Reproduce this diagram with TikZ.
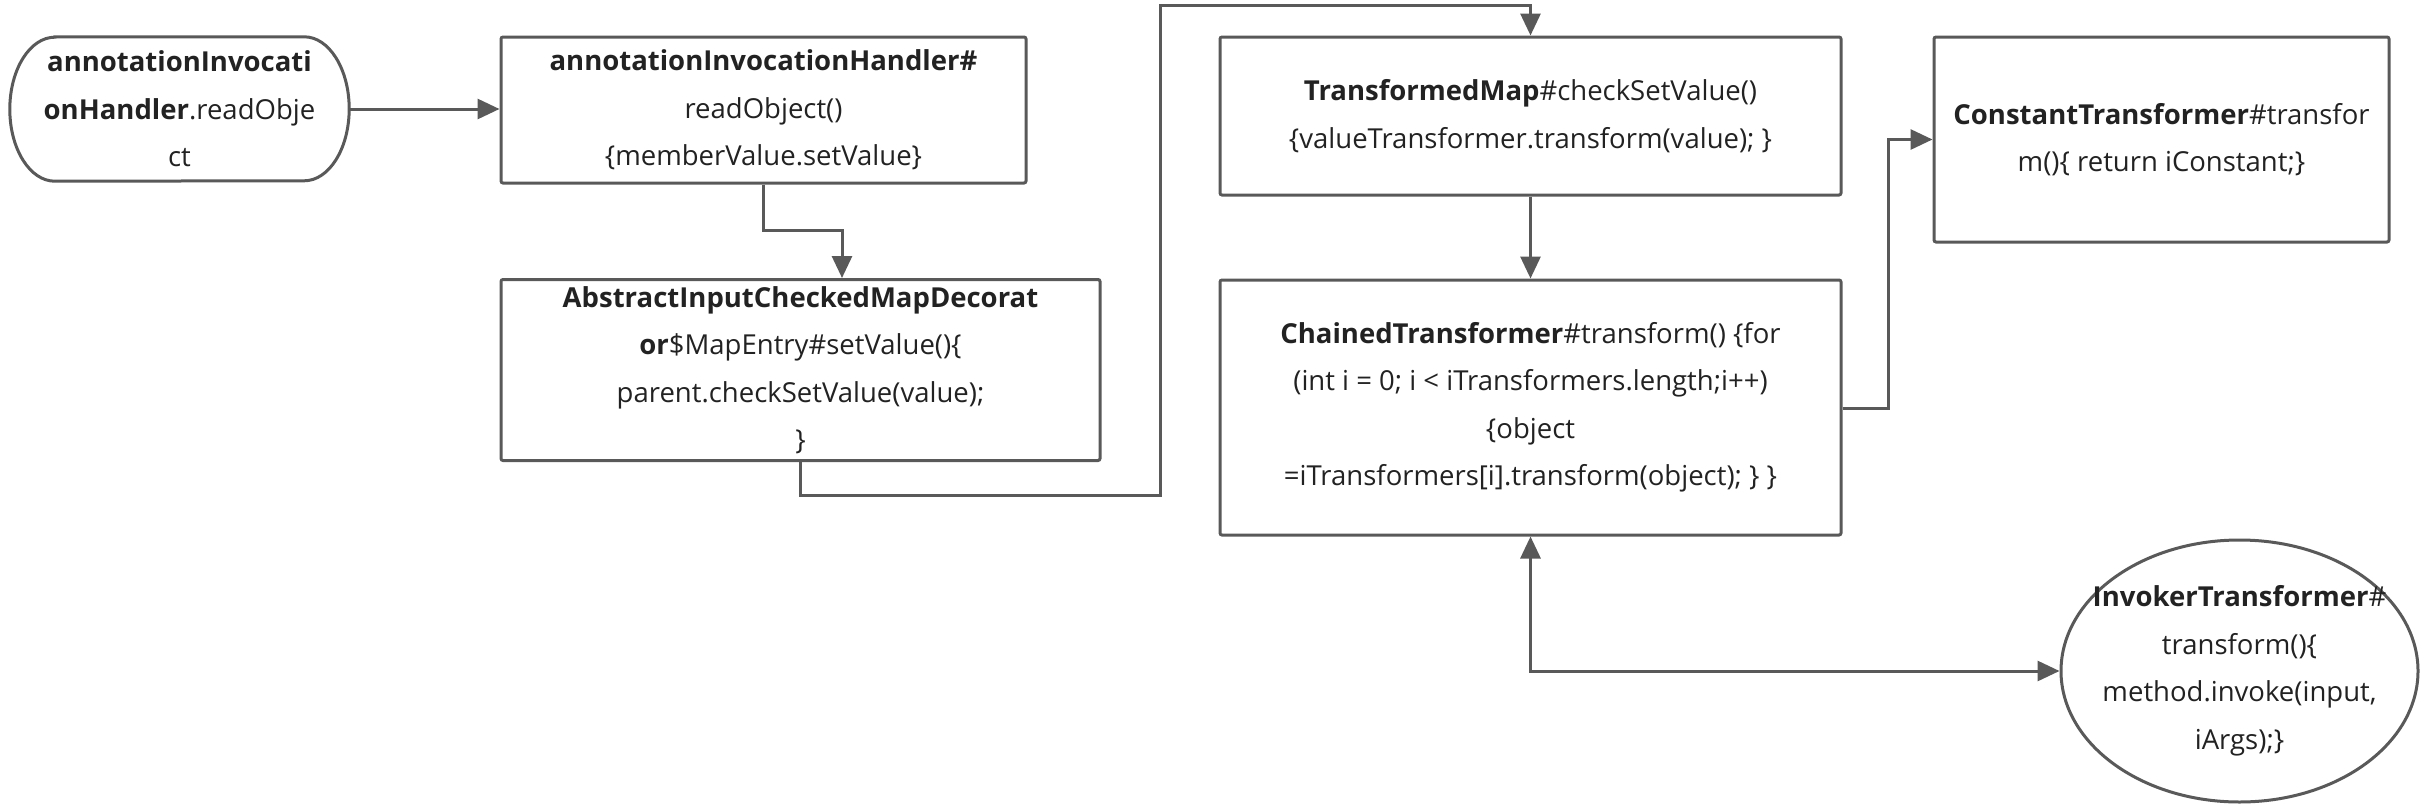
\documentclass[tikz,border=0pt]{standalone}
\usepackage{fontspec}
\setmainfont{Open Sans}
\usetikzlibrary{arrows.meta,shapes.geometric}
\definecolor{edge}{HTML}{595959}
\definecolor{ink}{HTML}{222222}
\begin{document}
\begin{tikzpicture}[x=1pt,y=-1pt,
  box/.style={draw=edge,line width=3pt,rounded corners=2pt,inner sep=0pt,align=center,text=ink,
    font={\fontsize{27.5}{47.5}\selectfont}},
  plain/.style={inner sep=0pt,align=center,text=ink,font={\fontsize{27.5}{47.5}\selectfont}},
  arr/.style={draw=edge,line width=3pt,-{Triangle[length=22pt,width=20pt]}},
  arrboth/.style={draw=edge,line width=3pt,{Triangle[length=22pt,width=20pt]}-{Triangle[length=22pt,width=20pt]}}]
\useasboundingbox (0,0) rectangle (2430,803);

% A: terminator shape
\node[plain,minimum width=339pt,minimum height=144pt] (A) at (179.5,109)
  {\textbf{annotationInvocati}\\\textbf{onHandler}.readObje\\ct};
\draw[edge,line width=3pt] ([xshift=45pt]A.north west) -- ([xshift=-45pt]A.north east)
  arc[start angle=90,end angle=-90,x radius=45pt,y radius=72pt]
  -- ([xshift=45pt]A.south west)
  arc[start angle=270,end angle=90,x radius=45pt,y radius=72pt] -- cycle;

\node[box,minimum width=525pt,minimum height=146pt] (B) at (763.5,110)
  {\textbf{annotationInvocationHandler\#}\\readObject()\\\{memberValue.setValue\}};
\node[box,minimum width=599pt,minimum height=181pt] (C) at (800.5,370)
  {\textbf{AbstractInputCheckedMapDecorat}\\\textbf{or}\$MapEntry\#setValue()\{\\parent.checkSetValue(value);\\\}};
\node[box,minimum width=621pt,minimum height=158pt] (D) at (1530.5,116)
  {\textbf{TransformedMap}\#checkSetValue()\\\{valueTransformer.transform(value); \}};
\node[box,minimum width=621pt,minimum height=255pt] (E) at (1530.5,407.5)
  {\textbf{ChainedTransformer}\#transform() \{for\\(int i = 0; i < iTransformers.length;i++)\\\{object\\=iTransformers[i].transform(object); \} \}};
\node[box,minimum width=455pt,minimum height=205pt] (F) at (2161.5,139.5)
  {\textbf{ConstantTransformer}\#transfor\\m()\{ return iConstant;\}};
\node[ellipse,draw=edge,line width=3pt,minimum width=357pt,minimum height=262pt,inner sep=0pt] (G) at (2239.5,671) {};
\node[plain] (Gt) at (G.center)
  {\textbf{InvokerTransformer}\#\\transform()\{\\method.invoke(input,\\iArgs);\}};

% connectors
\draw[arr] (A.east) -- (A.east -| B.west);
\coordinate (bc1) at (763,230);
\coordinate (cin) at (842,279);
\draw[arr] (B.south -| bc1) -- (bc1) -| (cin |- C.north);
\coordinate (cd1) at (1160,495);
\coordinate (cd2) at (1160,5);
\draw[arr] (C.south) |- (cd1) -- (cd2) -| (D.north);
\draw[arr] (D.south) -- (E.north);
\coordinate (ef) at (1888,408);
\draw[arr] (E.east |- ef) -- (ef) |- (F.west);
\draw[arrboth] (E.south) |- (G.west);
\end{tikzpicture}
\end{document}
